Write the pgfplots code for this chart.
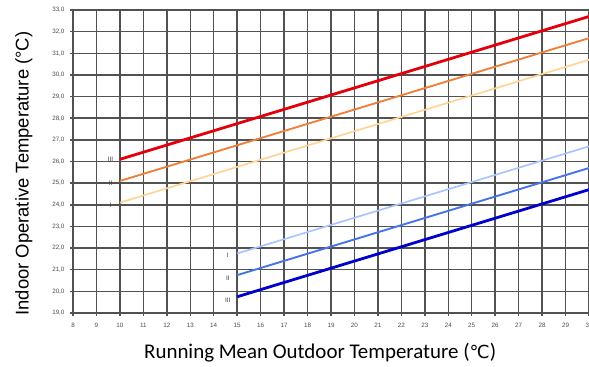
\documentclass[border=0pt]{standalone}
\usepackage{pgfplots}
\pgfplotsset{compat=1.18}
\usepackage{fontspec}
\setmainfont{Carlito}
\newfontfamily\tickfont{Liberation Sans}
\newfontfamily\symfont{DejaVu Sans}
\definecolor{cIIIu}{RGB}{228,0,10}
\definecolor{cIIu}{RGB}{238,128,60}
\definecolor{cIu}{RGB}{255,212,150}
\definecolor{cIIIl}{RGB}{0,0,205}
\definecolor{cIIl}{RGB}{70,115,232}
\definecolor{cIl}{RGB}{170,196,255}
\begin{document}
\begin{tikzpicture}
\begin{axis}[
  name=ax,
  scale only axis,
  width=516bp, height=303bp,
  xmin=8, xmax=30, ymin=19, ymax=33,
  xtick={8,...,30}, ytick={19,...,33},
  grid=major,
  grid style={black!68, line width=1.5bp},
  axis line style={black!68, line width=1.5bp},
  tick style={black!68, line width=1.5bp},
  tick align=outside, major tick length=3bp,
  xtick pos=bottom, ytick pos=left,
  /pgf/number format/assume math mode=true,
  yticklabel style={/pgf/number format/fixed, /pgf/number format/fixed zerofill, /pgf/number format/precision=1, /pgf/number format/use comma, xshift=-2bp},
  ticklabel style={font=\tickfont\fontsize{6.3}{7}\selectfont, text=black!70},
  xticklabel style={yshift=-4bp},
  xlabel={Running Mean Outdoor Temperature ({\symfont\fontsize{18}{20}\selectfont ℃})},
  ylabel={Indoor Operative Temperature (°C)},
  xlabel style={font=\fontsize{21}{23}\selectfont, at={(axis description cs:0.479,-0.132)}, anchor=center},
  ylabel style={font=\tickfont\fontsize{18.5}{20}\selectfont, at={(axis description cs:-0.095,0.46)}, anchor=center, rotate=0},
  clip=false,
]
\addplot[cIu, line width=1.7bp] coordinates {(10,24.1) (30,30.7)};
\addplot[cIIu, line width=1.9bp] coordinates {(10,25.1) (30,31.7)};
\addplot[cIIIu, line width=2.8bp] coordinates {(10,26.1) (30,32.7)};
\addplot[cIl, line width=1.7bp] coordinates {(15,21.75) (30,26.7)};
\addplot[cIIl, line width=1.9bp] coordinates {(15,20.75) (30,25.7)};
\addplot[cIIIl, line width=2.8bp] coordinates {(15,19.75) (30,24.7)};
\begin{scope}[every node/.style={font=\tickfont\fontsize{6.5}{7}\selectfont, text=black!75, inner sep=0.5pt}]
\node at (axis cs:9.6,26.1) {III};
\node at (axis cs:9.6,25.0) {II};
\node at (axis cs:9.6,24.0) {I};
\node at (axis cs:14.6,21.65) {I};
\node at (axis cs:14.6,20.6) {II};
\node at (axis cs:14.6,19.6) {III};
\end{scope}
\end{axis}
\pgfresetboundingbox
\path[use as bounding box] ([xshift=-73bp,yshift=-54bp]ax.south west) rectangle ([yshift=10bp]ax.north east);
\end{tikzpicture}
\end{document}
